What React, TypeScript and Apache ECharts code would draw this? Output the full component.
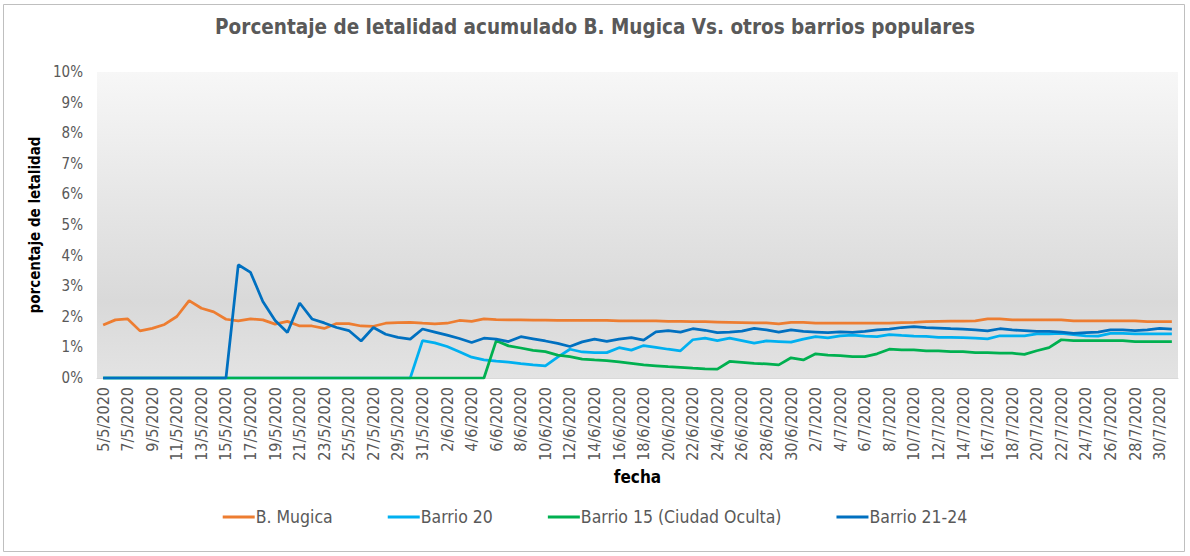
import React, { useEffect, useRef } from "react";
import * as echarts from "echarts";

const dates: string[] = [
  "5/5/2020","6/5/2020","7/5/2020","8/5/2020","9/5/2020","10/5/2020","11/5/2020","12/5/2020","13/5/2020","14/5/2020",
  "15/5/2020","16/5/2020","17/5/2020","18/5/2020","19/5/2020","20/5/2020","21/5/2020","22/5/2020","23/5/2020","24/5/2020",
  "25/5/2020","26/5/2020","27/5/2020","28/5/2020","29/5/2020","30/5/2020","31/5/2020",
  "1/6/2020","2/6/2020","3/6/2020","4/6/2020","5/6/2020","6/6/2020","7/6/2020","8/6/2020","9/6/2020","10/6/2020",
  "11/6/2020","12/6/2020","13/6/2020","14/6/2020","15/6/2020","16/6/2020","17/6/2020","18/6/2020","19/6/2020","20/6/2020",
  "21/6/2020","22/6/2020","23/6/2020","24/6/2020","25/6/2020","26/6/2020","27/6/2020","28/6/2020","29/6/2020","30/6/2020",
  "1/7/2020","2/7/2020","3/7/2020","4/7/2020","5/7/2020","6/7/2020","7/7/2020","8/7/2020","9/7/2020","10/7/2020",
  "11/7/2020","12/7/2020","13/7/2020","14/7/2020","15/7/2020","16/7/2020","17/7/2020","18/7/2020","19/7/2020","20/7/2020",
  "21/7/2020","22/7/2020","23/7/2020","24/7/2020","25/7/2020","26/7/2020","27/7/2020","28/7/2020","29/7/2020","30/7/2020",
  "31/7/2020"
];

const mugica: number[] = [
  1.73, 1.90, 1.93, 1.54, 1.62, 1.75, 2.01, 2.53, 2.28, 2.16,
  1.92, 1.87, 1.93, 1.90, 1.76, 1.85, 1.70, 1.70, 1.62, 1.78,
  1.78, 1.70, 1.69, 1.79, 1.81, 1.82, 1.79, 1.77, 1.79, 1.88,
  1.85, 1.93, 1.91, 1.90, 1.90, 1.89, 1.89, 1.88, 1.88, 1.88,
  1.88, 1.88, 1.87, 1.87, 1.87, 1.87, 1.85, 1.85, 1.84, 1.84,
  1.83, 1.82, 1.81, 1.80, 1.80, 1.77, 1.82, 1.82, 1.79, 1.79,
  1.79, 1.79, 1.79, 1.79, 1.79, 1.81, 1.82, 1.84, 1.85, 1.86,
  1.86, 1.87, 1.93, 1.93, 1.90, 1.90, 1.90, 1.90, 1.90, 1.87,
  1.87, 1.87, 1.87, 1.87, 1.87, 1.84, 1.84, 1.84
];

const barrio20: number[] = [
  0, 0, 0, 0, 0, 0, 0, 0, 0, 0,
  0, 0, 0, 0, 0, 0, 0, 0, 0, 0,
  0, 0, 0, 0, 0, 0, 1.22, 1.15, 1.03, 0.86,
  0.68, 0.59, 0.55, 0.52, 0.47, 0.43, 0.40, 0.68, 0.94, 0.85,
  0.83, 0.83, 0.99, 0.91, 1.06, 1.00, 0.94, 0.89, 1.25, 1.30,
  1.22, 1.30, 1.22, 1.14, 1.21, 1.19, 1.17, 1.27, 1.35, 1.31,
  1.38, 1.40, 1.37, 1.35, 1.42, 1.39, 1.37, 1.36, 1.33, 1.33,
  1.32, 1.30, 1.28, 1.38, 1.38, 1.38, 1.44, 1.44, 1.46, 1.42,
  1.38, 1.37, 1.46, 1.46, 1.44, 1.44, 1.44, 1.44
];

const barrio15: number[] = [
  0, 0, 0, 0, 0, 0, 0, 0, 0, 0,
  0, 0, 0, 0, 0, 0, 0, 0, 0, 0,
  0, 0, 0, 0, 0, 0, 0, 0, 0, 0,
  0, 0, 1.22, 1.05, 0.98, 0.90, 0.86, 0.75, 0.70, 0.62,
  0.59, 0.57, 0.53, 0.48, 0.43, 0.40, 0.37, 0.35, 0.32, 0.30,
  0.29, 0.54, 0.51, 0.48, 0.46, 0.43, 0.66, 0.59, 0.79, 0.75,
  0.73, 0.70, 0.70, 0.79, 0.94, 0.92, 0.92, 0.89, 0.89, 0.86,
  0.86, 0.83, 0.83, 0.81, 0.81, 0.77, 0.89, 0.99, 1.25, 1.22,
  1.22, 1.22, 1.22, 1.22, 1.19, 1.19, 1.19, 1.19
];

const barrio2124: number[] = [
  0, 0, 0, 0, 0, 0, 0, 0, 0, 0,
  0, 3.70, 3.45, 2.50, 1.88, 1.49, 2.45, 1.93, 1.80, 1.65,
  1.55, 1.21, 1.65, 1.43, 1.33, 1.27, 1.60, 1.50, 1.40, 1.29,
  1.16, 1.30, 1.27, 1.19, 1.35, 1.28, 1.21, 1.13, 1.03, 1.18,
  1.27, 1.20, 1.27, 1.32, 1.24, 1.51, 1.55, 1.50, 1.61, 1.56,
  1.48, 1.50, 1.53, 1.62, 1.57, 1.50, 1.57, 1.52, 1.50, 1.48,
  1.51, 1.49, 1.52, 1.57, 1.60, 1.65, 1.68, 1.65, 1.63, 1.61,
  1.60, 1.57, 1.54, 1.61, 1.57, 1.55, 1.52, 1.52, 1.50, 1.46,
  1.48, 1.50, 1.57, 1.57, 1.55, 1.57, 1.62, 1.60
];

const seriesNames = ["B. Mugica", "Barrio 20", "Barrio 15 (Ciudad Oculta)", "Barrio 21-24"];
const seriesColors = ["#ED7D31", "#00B0F0", "#00B050", "#0070C0"];
const seriesData = [mugica, barrio20, barrio15, barrio2124];

const FONT = "'DejaVu Sans Condensed', 'Liberation Sans Narrow', sans-serif";

export default function App() {
  const ref = useRef<HTMLDivElement>(null);
  useEffect(() => {
    if (!ref.current) return;
    const chart = echarts.init(ref.current, null, { renderer: "svg" });
    chart.setOption({
      animation: false,
      backgroundColor: "#ffffff",
      textStyle: { fontFamily: FONT },
      title: {
        text: "Porcentaje de letalidad acumulado B. Mugica Vs. otros barrios populares",
        left: "center",
        top: 11,
        textStyle: { fontFamily: FONT, fontSize: 20.5, fontWeight: "bold", color: "#595959" },
      },
      graphic: [
        {
          type: "rect",
          shape: { x: 3.5, y: 4.5, width: 1181, height: 547 },
          style: { fill: "none", stroke: "#bfbfbf", lineWidth: 1 },
          silent: true,
        },
      ],
      legend: {
        data: seriesNames,
        left: "center",
        top: 503,
        icon: "rect",
        itemWidth: 32,
        itemHeight: 3,
        itemGap: 55,
        textStyle: { fontFamily: FONT, fontSize: 17.5, color: "#595959", padding: [0, 0, 0, -4] },
      },
      grid: {
        left: 97,
        right: 12,
        top: 72,
        bottom: 178,
        show: true,
        borderWidth: 0,
        outerBoundsMode: "none",
        backgroundColor: new echarts.graphic.LinearGradient(0, 0, 0, 1, [
          { offset: 0, color: "#f7f7f7" },
          { offset: 0.75, color: "#d9d9d9" },
          { offset: 1, color: "#e3e3e3" },
        ]),
      },
      xAxis: {
        type: "category",
        data: dates,
        boundaryGap: true,
        name: "fecha",
        nameLocation: "middle",
        nameGap: 90,
        nameTextStyle: { fontFamily: FONT, fontSize: 17, fontWeight: "bold", color: "#000000" },
        axisLine: { show: true, lineStyle: { color: "#d9d9d9", width: 1 } },
        axisTick: { show: false },
        axisLabel: {
          interval: 1,
          rotate: 90,
          margin: 9,
          fontFamily: FONT,
          fontSize: 16,
          color: "#595959",
        },
        splitLine: { show: false },
      },
      yAxis: {
        type: "value",
        min: 0,
        max: 10,
        interval: 1,
        name: "porcentaje de letalidad",
        nameLocation: "middle",
        nameGap: 38,
        nameTextStyle: { fontFamily: FONT, fontSize: 15, fontWeight: "bold", color: "#000000" },
        axisLine: { show: false },
        axisTick: { show: false },
        splitLine: { show: false },
        axisLabel: {
          formatter: "{value}%",
          margin: 14,
          fontFamily: FONT,
          fontSize: 15,
          color: "#595959",
        },
      },
      series: seriesNames.map((name, i) => ({
        name,
        type: "line",
        data: seriesData[i],
        symbol: "none",
        smooth: false,
        lineStyle: { color: seriesColors[i], width: 2.75 },
        itemStyle: { color: seriesColors[i] },
        z: 2 + i,
      })),
    });
    return () => chart.dispose();
  }, []);
  return (
    <div
      ref={ref}
      style={{ position: "absolute", left: 0, top: 0, width: 1190, height: 556 }}
    />
  );
}
